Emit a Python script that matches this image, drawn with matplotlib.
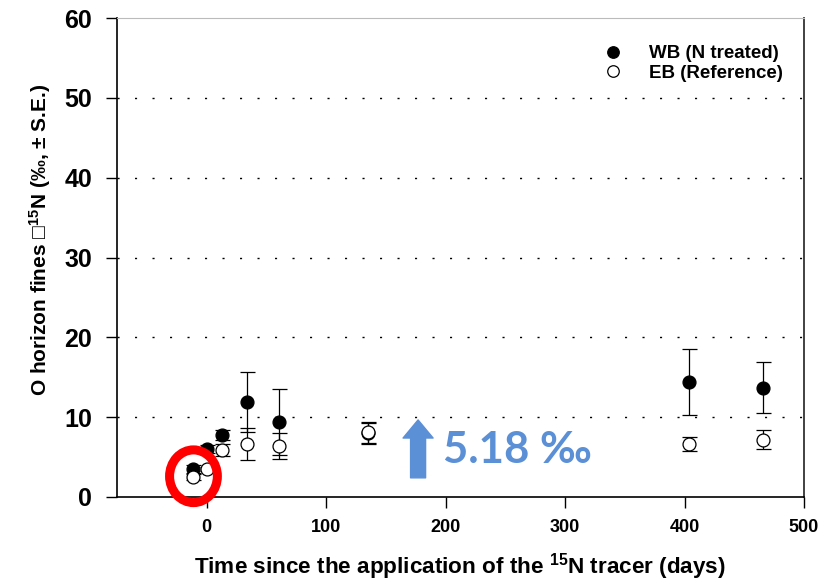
import matplotlib
matplotlib.use("Agg")
import matplotlib.pyplot as plt
from matplotlib.lines import Line2D
from matplotlib.patches import Ellipse

plt.rcParams['font.family'] = ['Liberation Sans', 'DejaVu Sans']
plt.rcParams['font.weight'] = 'bold'
plt.rcParams['mathtext.fontset'] = 'custom'
plt.rcParams['mathtext.rm'] = 'Liberation Sans:bold'
plt.rcParams['mathtext.bf'] = 'Liberation Sans:bold'
plt.rcParams['mathtext.it'] = 'Liberation Sans:bold'

# Sampling days relative to the 15N tracer application
days = [-11, 0, 13, 34, 61, 135, 404, 466]

# WB watershed (N treated): mean delta15N and standard error
wb_mean = [3.5, 6.0, 7.8, 11.9, 9.4, 8.0, 14.4, 13.7]
wb_se = [0.5, 0.5, 0.6, 3.8, 4.1, 1.3, 4.1, 3.2]

# EB watershed (reference): mean delta15N and standard error
eb_mean = [2.5, 3.5, 5.9, 6.6, 6.4, 8.1, 6.6, 7.2]
eb_se = [0.4, 0.3, 0.8, 2.0, 1.6, 1.35, 0.9, 1.2]

# Highlighted pre-treatment point and the annotated increase
highlight_day = -11
highlight_value = 2.6
increase_label = "5.18 ‰"
arrow_day = 177
arrow_from, arrow_to = 2.4, 9.65

x_ticks = [0, 100, 200, 300, 400, 500]
y_ticks = [0, 10, 20, 30, 40, 50, 60]

fig = plt.figure(figsize=(8.3, 5.82), dpi=100)
ax = fig.add_axes([117 / 830, 1 - 497 / 582, (804 - 117) / 830, (497 - 18) / 582])

ax.set_xlim(-75, 500)
ax.set_ylim(0, 60)

# Dotted reference lines
for yv in y_ticks[1:-1]:
    ax.axhline(yv, color='black', lw=1.0, dashes=(1.5, 11.1), zorder=1)

ms = 9.3
cap = 5.4
ax.errorbar(days, wb_mean, yerr=wb_se, fmt='o', color='black', ms=ms,
            mfc='black', mec='black', mew=0.9, elinewidth=0.9, capsize=cap,
            capthick=0.9, zorder=3)
ax.errorbar(days, eb_mean, yerr=eb_se, fmt='o', color='black', ms=ms,
            mfc='white', mec='black', mew=0.9, elinewidth=0.9, capsize=cap,
            capthick=0.9, zorder=4)

# Red ring around the first sampling date
ring = Ellipse((highlight_day, highlight_value), width=40, height=6.6,
               fill=False, edgecolor='#ff0000', lw=6.5, clip_on=False, zorder=6)
ax.add_patch(ring)

# Blue arrow and label for the increase
ax.annotate("", xy=(arrow_day, arrow_to), xytext=(arrow_day, arrow_from),
            arrowprops=dict(arrowstyle='simple,head_width=21.6,head_length=13,tail_width=10.8',
                            mutation_scale=1, color='#5b8fd6', shrinkA=0, shrinkB=0),
            zorder=5)
ax.text(197.5, 5.9, increase_label, color='#5b8fd6', fontsize=31.5,
        family=['Lato', 'DejaVu Sans'], weight='bold', ha='left', va='center', zorder=5)

ax.set_xticks(x_ticks)
ax.set_yticks(y_ticks)
ax.tick_params(axis='x', direction='out', length=8, width=1, pad=7.6, labelsize=13)
ax.tick_params(axis='y', direction='out', length=8, width=1, pad=10, labelsize=18)
for lab in ax.get_xticklabels() + ax.get_yticklabels():
    lab.set_fontweight('bold')

for side in ['left', 'bottom']:
    ax.spines[side].set_linewidth(1.2)
ax.spines['right'].set_linewidth(1.3)
ax.spines['right'].set_color('#333333')
ax.spines['top'].set_linewidth(0.8)
ax.spines['top'].set_color('#bbbbbb')

# Legend
handles = [
    Line2D([], [], marker='o', ls='none', ms=8.3, mfc='black', mec='black', mew=0.9),
    Line2D([], [], marker='o', ls='none', ms=8.3, mfc='white', mec='black', mew=0.9),
]
ax.legend(handles, ['WB (N treated)', 'EB (Reference)'], loc='upper left',
          bbox_to_anchor=(604 / 830, 1 - 45 / 582), bbox_transform=fig.transFigure,
          frameon=False, borderpad=0, borderaxespad=0, handlelength=0.95,
          handletextpad=1.45, labelspacing=0.12, prop=dict(size=13.5, weight='bold'))

fig.text(460 / 830, 1 - 574 / 582, r"Time since the application of the $^{15}$N tracer (days)",
         ha='center', va='baseline', fontsize=16.2, weight='bold')
fig.text(47 / 830, 1 - 240 / 582, r"O horizon fines □$^{15}$N (‰, ± S.E.)",
         ha='center', va='baseline', rotation=90, rotation_mode='anchor',
         fontsize=15, weight='bold')

fig.savefig("out.png", dpi=100)
